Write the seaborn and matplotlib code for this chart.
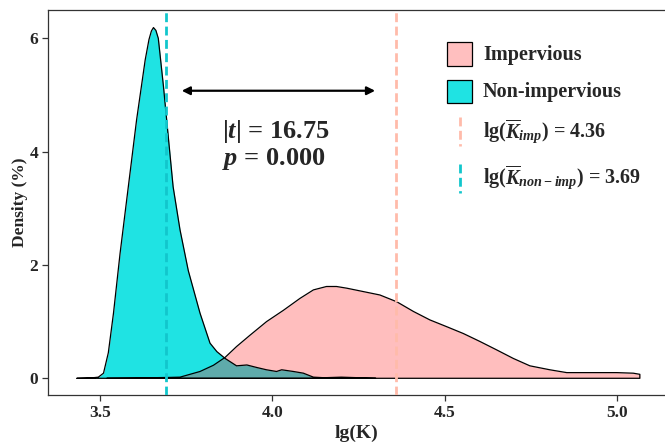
import numpy as np
import pandas as pd
import matplotlib
matplotlib.use("Agg")
import matplotlib.pyplot as plt
import seaborn as sns
from matplotlib.patches import Rectangle
from matplotlib.lines import Line2D

# ---------------- data ----------------
nonimp_x = [3.433, 3.46, 3.48, 3.495, 3.51, 3.524, 3.539, 3.558, 3.582, 3.606,
            3.631, 3.642, 3.649, 3.655, 3.662, 3.669, 3.684, 3.698, 3.712, 3.732,
            3.756, 3.79, 3.819, 3.839, 3.863, 3.896, 3.926, 3.955, 3.983, 4.012,
            4.027, 4.061, 4.09, 4.119, 4.15, 4.2, 4.25, 4.3]
nonimp_y = [0.0, 0.005, 0.01, 0.02, 0.09, 0.45, 1.15, 2.2, 3.38, 4.56,
            5.62, 5.98, 6.13, 6.19, 6.14, 6.0, 5.15, 4.26, 3.38, 2.62,
            1.9, 1.15, 0.62, 0.47, 0.35, 0.22, 0.235, 0.19, 0.15, 0.12,
            0.15, 0.12, 0.09, 0.02, 0.01, 0.02, 0.01, 0.0]

imp_x = [3.52, 3.6, 3.7, 3.732, 3.79, 3.829, 3.863, 3.896, 3.935, 3.983,
         4.032, 4.08, 4.119, 4.157, 4.186, 4.216, 4.264, 4.312, 4.361, 4.409,
         4.457, 4.506, 4.554, 4.602, 4.651, 4.699, 4.747, 4.805, 4.854, 4.902,
         4.951, 4.999, 5.047, 5.066]
imp_y = [0.0, 0.005, 0.015, 0.02, 0.12, 0.23, 0.37, 0.56, 0.76, 1.0,
         1.2, 1.41, 1.56, 1.62, 1.62, 1.59, 1.53, 1.47, 1.35, 1.18,
         1.03, 0.91, 0.79, 0.65, 0.5, 0.35, 0.22, 0.15, 0.1, 0.1,
         0.1, 0.1, 0.09, 0.07]

mean_imp = 4.36
mean_nonimp = 3.69
t_value = 16.75
p_value = 0.000
x_ticks = [3.5, 4.0, 4.5, 5.0]
y_ticks = [0, 2, 4, 6]
labels = ["Impervious", "Non-impervious"]

# ---------------- style ----------------
sns.set_theme(style="white")
plt.rcParams["font.family"] = ["Liberation Serif", "DejaVu Serif"]
plt.rcParams["font.weight"] = "bold"
plt.rcParams["mathtext.fontset"] = "custom"
plt.rcParams["mathtext.rm"] = "Liberation Serif:bold"
plt.rcParams["mathtext.it"] = "Liberation Serif:italic:bold"
plt.rcParams["mathtext.bf"] = "Liberation Serif:bold"

C_CYAN = "#1FE3E3"
C_PINK = "#FF2222"
PINK_ALPHA = 0.29
C_PINK_LINE = "#FFBBAA"
C_CYAN_LINE = "#12C6CC"

fig = plt.figure(figsize=(6.65, 4.44), dpi=100)
ax = fig.add_axes([48 / 665, 1 - 395 / 444, 1 - 48 / 665, (395 - 10) / 444])

def closed(xs, ys):
    xs = list(xs); ys = list(ys)
    return [xs[0]] + xs + [xs[-1], xs[0]], [0.0] + ys + [0.0, 0.0]

# fills
ax.fill_between(nonimp_x, 0, nonimp_y, color=C_CYAN, linewidth=0, zorder=1)
ax.fill_between(imp_x, 0, imp_y, color=C_PINK, alpha=PINK_ALPHA, linewidth=0, zorder=2)

# outlines through seaborn
for xs, ys in [(nonimp_x, nonimp_y), (imp_x, imp_y)]:
    cx, cy = closed(xs, ys)
    df = pd.DataFrame({"x": cx, "y": cy})
    sns.lineplot(data=df, x="x", y="y", sort=False, estimator=None,
                 color="black", linewidth=0.9, ax=ax, zorder=3)

# mean lines
ax.axvline(mean_imp, color=C_PINK_LINE, linewidth=2, dashes=(3.2, 1.6), zorder=4)
ax.axvline(mean_nonimp, color=C_CYAN_LINE, linewidth=2, dashes=(3.2, 1.6), zorder=4)

# arrow and stats
ax.annotate("", xy=(3.737, 5.075), xytext=(4.298, 5.075),
            arrowprops=dict(arrowstyle="<|-|>", color="black", lw=1.6,
                            mutation_scale=12, shrinkA=0, shrinkB=0), zorder=5)
ax.text(3.853, 4.35, r"$|t|$ = " + f"{t_value:.2f}", fontsize=19,
        fontweight="bold", ha="left", va="center")
ax.text(3.853, 3.87, r"$p$ = " + f"{p_value:.3f}", fontsize=19,
        fontweight="bold", ha="left", va="center")

# axes
ax.set_xlim(3.349, 5.139)
ax.set_ylim(-0.295, 6.5)
ax.set_xticks(x_ticks)
ax.set_xticklabels([f"{v:.1f}" for v in x_ticks])
ax.set_yticks(y_ticks)
ax.set_yticklabels([str(v) for v in y_ticks])
ax.set_xlabel("lg(K)", fontsize=14, fontweight="bold", labelpad=3)
ax.set_ylabel("Density (%)", fontsize=12.5, fontweight="bold", labelpad=1)
ax.tick_params(axis="both", labelsize=12.5, length=4, width=0.9,
               color="#333333", direction="out", pad=3, bottom=True, left=True)
for lab in ax.get_xticklabels() + ax.get_yticklabels():
    lab.set_fontweight("bold")
for side in ["left", "bottom", "top"]:
    ax.spines[side].set_color("#333333")
    ax.spines[side].set_linewidth(0.9)
ax.spines["right"].set_visible(False)

# legend (manual, figure coords)
def fx(px): return px / 665
def fy(py): return 1 - py / 444

fig.patches.append(Rectangle((fx(447), fy(66)), 25 / 665, 24 / 444,
                             transform=fig.transFigure, facecolor="#FFBFBF",
                             edgecolor="black", linewidth=0.9))
fig.patches.append(Rectangle((fx(447), fy(103)), 25 / 665, 23 / 444,
                             transform=fig.transFigure, facecolor=C_CYAN,
                             edgecolor="black", linewidth=0.9))
fig.lines.append(Line2D([fx(460), fx(460)], [fy(117), fy(146)],
                        transform=fig.transFigure, color=C_PINK_LINE,
                        linewidth=2, dashes=(3.2, 1.6)))
fig.lines.append(Line2D([fx(460), fx(460)], [fy(164), fy(193)],
                        transform=fig.transFigure, color=C_CYAN_LINE,
                        linewidth=2, dashes=(3.2, 1.6)))
fig.text(fx(483), fy(55), labels[0], fontsize=14.5, fontweight="bold", va="center")
fig.text(fx(483), fy(92), labels[1], fontsize=14.5, fontweight="bold", va="center")
fig.text(fx(483), fy(132), r"lg($\overline{K}_{imp}$) = " + f"{mean_imp:.2f}",
         fontsize=14.5, fontweight="bold", va="center")
fig.text(fx(483), fy(178), r"lg($\overline{K}_{non-imp}$) = " + f"{mean_nonimp:.2f}",
         fontsize=14.5, fontweight="bold", va="center")

fig.savefig("out.png", dpi=100)
